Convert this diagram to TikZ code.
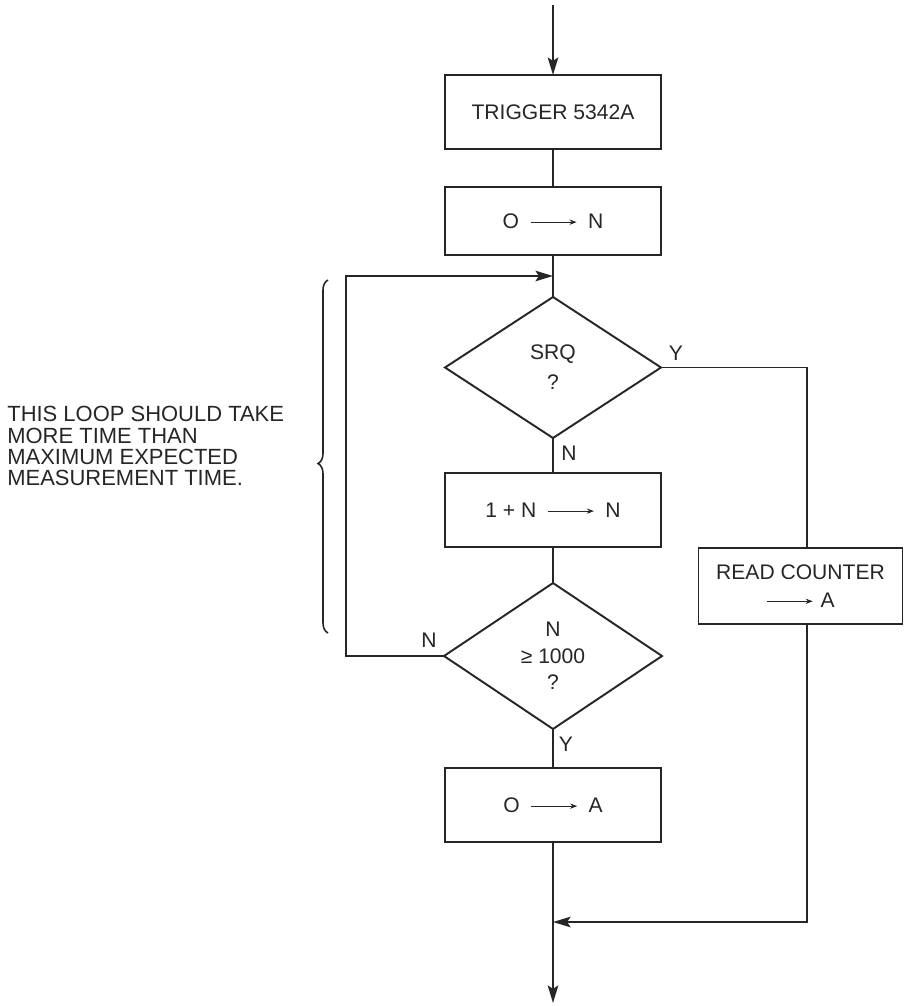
\documentclass[tikz,border=0pt]{standalone}
\usepackage{fontspec}
\setmainfont{Liberation Sans}
\usepackage{tikz}
\usetikzlibrary{shapes.geometric, arrows.meta, positioning, decorations.pathreplacing}

\definecolor{ink}{gray}{0.15}
\newcommand{\assign}{\tikz[baseline=-0.55ex]\draw[ink, line width=0.55pt, -{Stealth[length=4pt, width=3pt]}] (0,0) -- (0.92,0);}

\begin{document}
\begin{tikzpicture}[
	node distance=7mm,
	font=\fontsize{12}{15}\selectfont,
	color=ink,
	box/.style={draw, line width=1.1pt, minimum width=4.32cm, minimum height=1.48cm, align=center, outer sep=0pt},
	dec/.style={diamond, draw, aspect=1.5, line width=1.1pt, minimum width=4.32cm, minimum height=2.82cm, align=center, inner sep=0pt, outer sep=0pt},
	line/.style={line width=1.1pt},
	arrow/.style={line width=1.1pt, -{Stealth[length=10pt, width=6pt, inset=2pt]}},
	lbl/.style={inner sep=1pt},
	note/.style={align=left, inner sep=0pt, font=\fontsize{12.5}{12}\selectfont}
]
\useasboundingbox (0,0) rectangle (18.08,-20.12);

% Nodes
\node[box] (trigger) at (11.06,-2.24) {TRIGGER 5342A};
\node[box, minimum height=1.36cm, below=0.76cm of trigger] (zero) {O\hspace{0.22cm}\assign\hspace{0.22cm}N};
\node[dec, below=0.84cm of zero] (srq) {SRQ\\[2pt]?};
\node[box, below=0.7cm of srq] (incr) {1 + N\hspace{0.22cm}\assign\hspace{0.22cm}N};
\node[dec, minimum width=4.36cm, minimum height=2.92cm, below=0.72cm of incr] (cmp) {N\\≥ 1000\\?};
\node[box, below=0.78cm of cmp] (clear) {O\hspace{0.22cm}\assign\hspace{0.22cm}A};
\node[box, minimum width=4.08cm, minimum height=1.52cm] (read) at (16.01,-11.72) {READ COUNTER\\[1pt]\assign\hspace{0.15cm}A};
\node[note, anchor=west] (loopnote) at (0.14,-8.92) {THIS LOOP SHOULD TAKE\\MORE TIME THAN\\MAXIMUM EXPECTED\\MEASUREMENT TIME.};

\coordinate (start) at (11.06,-0.1);
\coordinate (join) at (11.06,-5.52);
\coordinate (merge) at (11.06,-18.44);
\coordinate (exit) at (11.06,-20.06);

% Labels
\node[lbl] (srqyes) at ([shift={(0.3,0.28)}]srq.east) {Y};
\node[lbl] (srqno) at ([shift={(0.32,-0.3)}]srq.south) {N};
\node[lbl] (cmpno) at ([shift={(-0.3,0.32)}]cmp.west) {N};
\node[lbl] (cmpyes) at ([shift={(0.26,-0.3)}]cmp.south) {Y};

% Edges
\draw[arrow] (start) -- (trigger);
\draw[line] (trigger) -- (zero);
\draw[line] (zero) -- (srq);
\draw[line] (srq) -- (incr);
\draw[line] (incr) -- (cmp);
\draw[line] (cmp) -- (clear);
\draw[arrow] (clear) -- (exit);
\draw[arrow] (cmp.west) -- ++(-1.96,0) |- (join);
\draw[line] (srq.east) -| ([xshift=0.13cm]read.north);
\draw[arrow] ([xshift=0.13cm]read.south) |- (merge);

% Brace
\draw[line width=0.9pt, decorate, decoration={brace, amplitude=0.2cm, aspect=0.48}] (6.56,-12.66) -- (6.56,-5.6);

\end{tikzpicture}
\end{document}
